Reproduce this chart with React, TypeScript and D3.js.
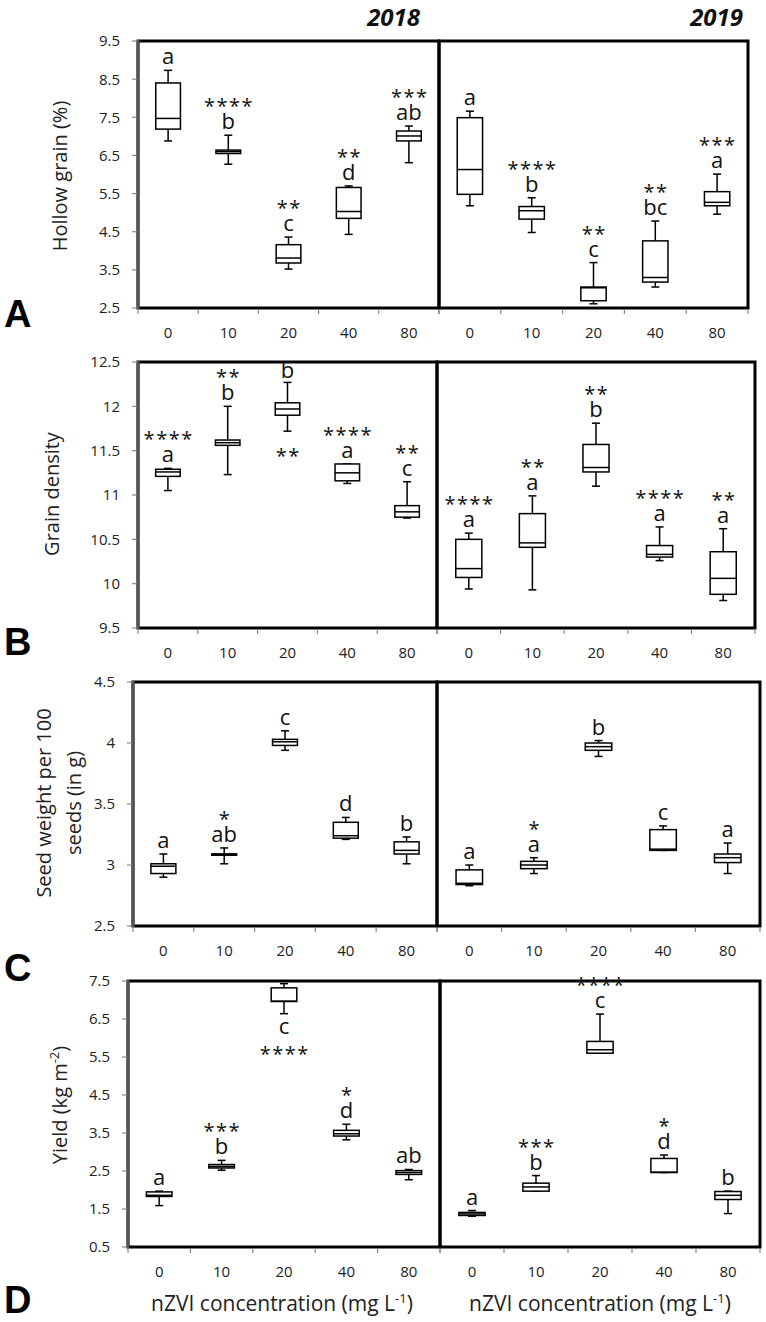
import React from "react";
import * as d3 from "d3";

// ---------- data (box: [whiskerLow, q1, median, q3, whiskerHigh]) ----------
const categories = ["0", "10", "20", "40", "80"];
const years = ["2018", "2019"];

const hollow2018 = [[6.88, 7.19, 7.47, 8.40, 8.73], [6.27, 6.55, 6.60, 6.64, 7.03], [3.52, 3.68, 3.81, 4.16, 4.36], [4.43, 4.85, 5.03, 5.66, 5.70], [6.31, 6.88, 7.01, 7.14, 7.27]];
const hollow2019 = [[5.18, 5.48, 6.13, 7.49, 7.66], [4.48, 4.83, 5.05, 5.16, 5.39], [2.61, 2.69, 3.03, 3.05, 3.69], [3.05, 3.18, 3.30, 4.26, 4.78], [4.96, 5.18, 5.27, 5.55, 6.01]];
const hollowLetters2018 = ["a", "b", "c", "d", "ab"];
const hollowLetters2019 = ["a", "b", "c", "bc", "a"];
const hollowStars2018 = ["", "****", "**", "**", "***"];
const hollowStars2019 = ["", "****", "**", "**", "***"];

const density2018 = [[11.05, 11.21, 11.26, 11.29, 11.30], [11.23, 11.56, 11.59, 11.62, 12.00], [11.72, 11.90, 11.97, 12.04, 12.27], [11.13, 11.16, 11.25, 11.35, 11.35], [10.74, 10.75, 10.81, 10.88, 11.15]];
const density2019 = [[9.94, 10.07, 10.17, 10.50, 10.57], [9.93, 10.41, 10.46, 10.79, 10.99], [11.10, 11.26, 11.31, 11.57, 11.81], [10.26, 10.30, 10.33, 10.43, 10.64], [9.81, 9.88, 10.06, 10.36, 10.62]];
const densityLetters2018 = ["a", "b", "b", "a", "c"];
const densityLetters2019 = ["a", "a", "b", "a", "a"];
const densityStars2018 = ["****", "**", "**", "****", "**"];
const densityStars2019 = ["****", "**", "**", "****", "**"];
const densityPlace2018 = ["above", "above", "split", "above", "above"];

const seed2018 = [[2.90, 2.93, 2.99, 3.01, 3.09], [3.01, 3.08, 3.09, 3.09, 3.14], [3.94, 3.98, 4.01, 4.03, 4.10], [3.21, 3.22, 3.24, 3.35, 3.39], [3.01, 3.09, 3.12, 3.19, 3.23]];
const seed2019 = [[2.83, 2.84, 2.85, 2.96, 3.00], [2.93, 2.97, 3.00, 3.03, 3.06], [3.89, 3.94, 3.97, 4.00, 4.02], [3.12, 3.12, 3.13, 3.29, 3.32], [2.93, 3.02, 3.06, 3.09, 3.18]];
const seedLetters2018 = ["a", "ab", "c", "d", "b"];
const seedLetters2019 = ["a", "a", "b", "c", "a"];
const seedStars2018 = ["", "*", "", "", ""];
const seedStars2019 = ["", "*", "", "", ""];

const yield2018 = [[1.59, 1.83, 1.86, 1.95, 1.97], [2.52, 2.58, 2.62, 2.67, 2.78], [6.64, 6.96, 6.97, 7.32, 7.43], [3.32, 3.42, 3.48, 3.57, 3.73], [2.27, 2.41, 2.46, 2.51, 2.54]];
const yield2019 = [[1.31, 1.33, 1.37, 1.41, 1.46], [1.97, 1.97, 2.08, 2.18, 2.38], [5.60, 5.60, 5.69, 5.91, 6.63], [2.46, 2.46, 2.47, 2.83, 2.92], [1.38, 1.75, 1.86, 1.96, 1.97]];
const yieldLetters2018 = ["a", "b", "c", "d", "ab"];
const yieldLetters2019 = ["a", "b", "c", "d", "b"];
const yieldStars2018 = ["", "***", "****", "*", ""];
const yieldStars2019 = ["", "***", "****", "*", ""];
const yieldPlace2018 = ["above", "above", "below", "above", "above"];

const hollowTicks = [2.5, 3.5, 4.5, 5.5, 6.5, 7.5, 8.5, 9.5];
const densityTicks = [9.5, 10, 10.5, 11, 11.5, 12, 12.5];
const seedTicks = [2.5, 3, 3.5, 4, 4.5];
const yieldTicks = [0.5, 1.5, 2.5, 3.5, 4.5, 5.5, 6.5, 7.5];

const FONT = "'Open Sans', 'DejaVu Sans', sans-serif";

type Row = {
  key: string;
  top: number; bottom: number; x0: number; xm: number; x1: number;
  ticks: number[];
  data: number[][][];
  letters: string[][];
  stars: string[][];
  place: (string[] | null)[];
  letterY: number;
  titleX: number; titleY: number;
  title: React.ReactNode;
};

function Panel({ row }: { row: Row }) {
  const { top, bottom, x0, xm, x1, ticks } = row;
  const y = d3.scaleLinear().domain([ticks[0], ticks[ticks.length - 1]]).range([bottom, top]);
  const ranges: [number, number][] = [[x0, xm], [xm, x1]];
  const out: React.ReactNode[] = [];

  ranges.forEach((rg, pi) => {
    const x = d3.scaleBand().domain(categories).range(rg).paddingInner(0).paddingOuter(0);
    const bw = x.bandwidth();
    const boxW = bw * 0.41;
    const capW = 8;
    out.push(
      <rect key={`f${pi}`} x={rg[0]} y={top} width={rg[1] - rg[0]} height={bottom - top}
        fill="none" stroke="#000" strokeWidth={3} />
    );
    const edges = categories.map((c) => x(c) as number).concat([rg[1]]);
    edges.forEach((e, i) => out.push(
      <line key={`xt${pi}-${i}`} x1={e} x2={e} y1={bottom + 1} y2={bottom + 6} stroke="#888" strokeWidth={1.2} />
    ));
    categories.forEach((c, i) => {
      const cx = (x(c) as number) + bw / 2;
      out.push(
        <text key={`xl${pi}-${i}`} x={cx} y={bottom + 30} textAnchor="middle" fontSize={15} fontFamily={FONT} fill="#222">{c}</text>
      );
      const [lo, q1, med, q3, hi] = row.data[pi][i];
      out.push(
        <g key={`b${pi}-${i}`} stroke="#000" strokeWidth={1.5} fill="none">
          <line x1={cx} x2={cx} y1={y(hi)} y2={y(q3)} />
          <line x1={cx} x2={cx} y1={y(q1)} y2={y(lo)} />
          <line x1={cx - capW / 2} x2={cx + capW / 2} y1={y(hi)} y2={y(hi)} />
          <line x1={cx - capW / 2} x2={cx + capW / 2} y1={y(lo)} y2={y(lo)} />
          <rect x={cx - boxW / 2} y={y(q3)} width={boxW} height={Math.max(1, y(q1) - y(q3))} fill="#fff" />
          <line x1={cx - boxW / 2} x2={cx + boxW / 2} y1={y(med)} y2={y(med)} />
        </g>
      );
      const letter = row.letters[pi][i];
      const star = row.stars[pi][i];
      const placeArr = row.place[pi];
      const place = placeArr ? placeArr[i] : "above";
      const lStyle = { fontSize: 22, fontFamily: FONT, fill: "#111" };
      const sStyle = { fontSize: 20, fontFamily: FONT, fill: "#111", letterSpacing: 1.5 };
      if (place === "above") {
        const lb = y(hi) - 6;
        out.push(<text key={`l${pi}-${i}`} x={cx} y={lb} textAnchor="middle" style={lStyle}>{letter}</text>);
        if (star) out.push(<text key={`s${pi}-${i}`} x={cx + 0.75} y={lb - 16} textAnchor="middle" style={sStyle}>{star}</text>);
      } else if (place === "split") {
        const lb = y(hi) - 4;
        out.push(<text key={`l${pi}-${i}`} x={cx} y={lb} textAnchor="middle" style={lStyle}>{letter}</text>);
        if (star) out.push(<text key={`s${pi}-${i}`} x={cx + 0.75} y={y(lo) + 32} textAnchor="middle" style={sStyle}>{star}</text>);
      } else {
        const lb = y(lo) + 20;
        out.push(<text key={`l${pi}-${i}`} x={cx} y={lb} textAnchor="middle" style={lStyle}>{letter}</text>);
        if (star) out.push(<text key={`s${pi}-${i}`} x={cx + 0.75} y={lb + 27} textAnchor="middle" style={sStyle}>{star}</text>);
      }
    });
  });

  out.push(<line key="yax" x1={x0} x2={x0} y1={top - 1} y2={bottom + 1} stroke="#555" strokeWidth={3} />);
  ticks.forEach((t, i) => {
    out.push(<line key={`yt${i}`} x1={x0 - 6} x2={x0 - 1} y1={y(t)} y2={y(t)} stroke="#888" strokeWidth={1.2} />);
    out.push(
      <text key={`yl${i}`} x={x0 - 18} y={y(t)} dy="0.36em" textAnchor="end" fontSize={15} fontFamily={FONT} fill="#222">{String(t)}</text>
    );
  });
  if (row.title) {
    out.push(
      <text key="yt" transform={`translate(${row.titleX},${row.titleY}) rotate(-90)`} textAnchor="middle"
        fontSize={20} fontFamily={FONT} fill="#222">{row.title}</text>
    );
  }
  out.push(
    <text key="pl" x={4} y={row.letterY} fontSize={38} fontWeight="bold" fontFamily="'Liberation Sans', Arial, sans-serif" fill="#000">{row.key}</text>
  );
  return <g>{out}</g>;
}

export default function App() {
  const rows: Row[] = [
    {
      key: "A", top: 41, bottom: 308, x0: 138, xm: 439, x1: 748, ticks: hollowTicks,
      data: [hollow2018, hollow2019], letters: [hollowLetters2018, hollowLetters2019],
      stars: [hollowStars2018, hollowStars2019], place: [null, null],
      letterY: 327, titleX: 67, titleY: 176, title: "Hollow grain (%)",
    },
    {
      key: "B", top: 362, bottom: 628, x0: 138, xm: 437, x1: 755, ticks: densityTicks,
      data: [density2018, density2019], letters: [densityLetters2018, densityLetters2019],
      stars: [densityStars2018, densityStars2019], place: [densityPlace2018, null],
      letterY: 655, titleX: 59, titleY: 494, title: "Grain density",
    },
    {
      key: "C", top: 682, bottom: 926, x0: 133, xm: 437, x1: 760, ticks: seedTicks,
      data: [seed2018, seed2019], letters: [seedLetters2018, seedLetters2019],
      stars: [seedStars2018, seedStars2019], place: [null, null],
      letterY: 981, titleX: 0, titleY: 0, title: null,
    },
    {
      key: "D", top: 981, bottom: 1247, x0: 128, xm: 440, x1: 760, ticks: yieldTicks,
      data: [yield2018, yield2019], letters: [yieldLetters2018, yieldLetters2019],
      stars: [yieldStars2018, yieldStars2019], place: [yieldPlace2018, null],
      letterY: 1313, titleX: 67, titleY: 1105,
      title: [
        <tspan key="a">Yield (kg m</tspan>,
        <tspan key="b" fontSize={13} dy={-8}>-2</tspan>,
        <tspan key="c" dy={8}>)</tspan>,
      ],
    },
  ];

  return (
    <svg width={766} height={1322} style={{ position: "absolute", left: 0, top: 0, background: "#fff" }}>
      <rect width={766} height={1322} fill="#fff" />
      <text x={420} y={26} textAnchor="end" fontSize={24} fontWeight="bold" fontStyle="italic" fontFamily={FONT} fill="#111">{years[0]}</text>
      <text x={743} y={26} textAnchor="end" fontSize={24} fontWeight="bold" fontStyle="italic" fontFamily={FONT} fill="#111">{years[1]}</text>
      {rows.map((r) => <Panel key={r.key} row={r} />)}
      <text transform="translate(55,803) rotate(-90)" textAnchor="middle" fontSize={20} fontFamily={FONT} fill="#222">
        <tspan x={0} dy={-4}>Seed weight per 100</tspan>
        <tspan x={0} dy={30}>seeds (in g)</tspan>
      </text>
      <text x={282} y={1311} textAnchor="middle" fontSize={21} fontFamily={FONT} fill="#222">
        nZVI concentration (mg L<tspan fontSize={13} dy={-8}>-1</tspan><tspan dy={8}>)</tspan>
      </text>
      <text x={600} y={1311} textAnchor="middle" fontSize={21} fontFamily={FONT} fill="#222">
        nZVI concentration (mg L<tspan fontSize={13} dy={-8}>-1</tspan><tspan dy={8}>)</tspan>
      </text>
    </svg>
  );
}
